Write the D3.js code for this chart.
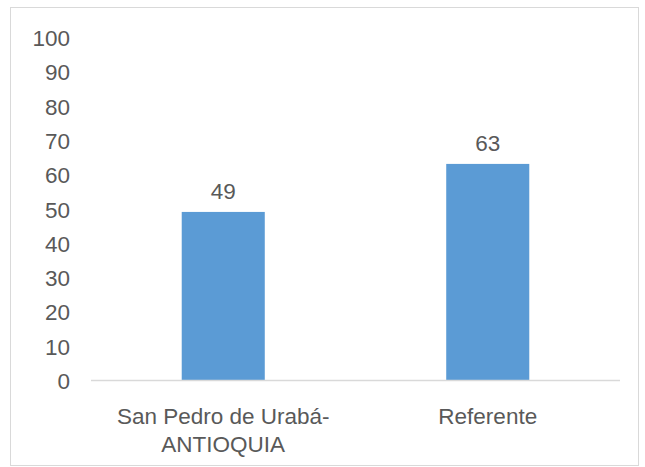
<!DOCTYPE html>
<html>
<head>
<meta charset="utf-8">
<script src="https://cdn.jsdelivr.net/npm/d3@7"></script>
<style>
  body { margin: 0; background: #fff; }
  text { font-family: "Liberation Sans", Arial, sans-serif; fill: #595959; }
</style>
</head>
<body>
<div id="svganchor"></div>
<script>
let width = 645, height = 467;

let margin = ({top: 37, right: 25, bottom: 87, left: 91});

// data
let categories = [["San Pedro de Urabá-", "ANTIOQUIA"], ["Referente"]];
let values = [49, 63];
let yTicks = [0, 10, 20, 30, 40, 50, 60, 70, 80, 90, 100];

let fontSize = 22.5;

let svg = d3.select("#svganchor")
    .append("svg")
    .attr("width", width)
    .attr("height", height);

// chart frame
svg.append("rect")
    .attr("x", 10.5)
    .attr("y", 7.5)
    .attr("width", 628)
    .attr("height", 458)
    .attr("fill", "#fff")
    .attr("stroke", "#d9d9d9")
    .attr("stroke-width", 1);

let xScale = d3.scaleBand()
    .domain(d3.range(values.length))
    .range([margin.left, width - margin.right])
    .padding(0);

let yScale = d3.scaleLinear()
    .domain([0, 100])
    .range([height - margin.bottom, margin.top]);

let barWidth = xScale.bandwidth() * 0.314;

let yAxis = d3.axisLeft(yScale)
    .tickValues(yTicks)
    .tickSize(0)
    .tickPadding(0);

let gY = svg.append("g")
    .attr("class", "y axis")
    .attr("transform", `translate(${margin.left - 21},0)`)
    .call(yAxis);

gY.select(".domain").remove();
gY.selectAll("text")
    .attr("font-size", fontSize)
    .attr("font-family", "Liberation Sans, Arial, sans-serif")
    .attr("fill", "#595959")
    .attr("dy", "0.38em");

// bars
svg.selectAll(".bars")
    .data(values)
    .enter()
    .append("rect")
    .attr("class", "bars")
    .attr("x", function(d, i) { return xScale(i) + (xScale.bandwidth() - barWidth) / 2; })
    .attr("y", function(d) { return yScale(d); })
    .attr("width", barWidth)
    .attr("height", function(d) { return yScale(0) - yScale(d); })
    .attr("fill", "#5b9bd5");

// baseline
svg.append("line")
    .attr("x1", margin.left)
    .attr("x2", width - margin.right)
    .attr("y1", yScale(0) + 0.5)
    .attr("y2", yScale(0) + 0.5)
    .attr("stroke", "#d9d9d9")
    .attr("stroke-width", 1.5);

// value labels
svg.selectAll(".valueLabel")
    .data(values)
    .enter()
    .append("text")
    .attr("class", "valueLabel")
    .attr("text-anchor", "middle")
    .attr("x", function(d, i) { return xScale(i) + xScale.bandwidth() / 2; })
    .attr("y", function(d) { return yScale(d) - 13; })
    .attr("font-size", fontSize)
    .text(function(d) { return d; });

// category labels
let catLabels = svg.selectAll(".catLabel")
    .data(categories)
    .enter()
    .append("text")
    .attr("class", "catLabel")
    .attr("text-anchor", "middle")
    .attr("font-size", fontSize)
    .attr("x", function(d, i) { return xScale(i) + xScale.bandwidth() / 2; })
    .attr("y", yScale(0) + 44);

catLabels.selectAll("tspan")
    .data(function(d) { return d; })
    .enter()
    .append("tspan")
    .attr("x", function() { return d3.select(this.parentNode).attr("x"); })
    .attr("dy", function(d, i) { return i === 0 ? 0 : 28; })
    .text(function(d) { return d; });
</script>
</body>
</html>
